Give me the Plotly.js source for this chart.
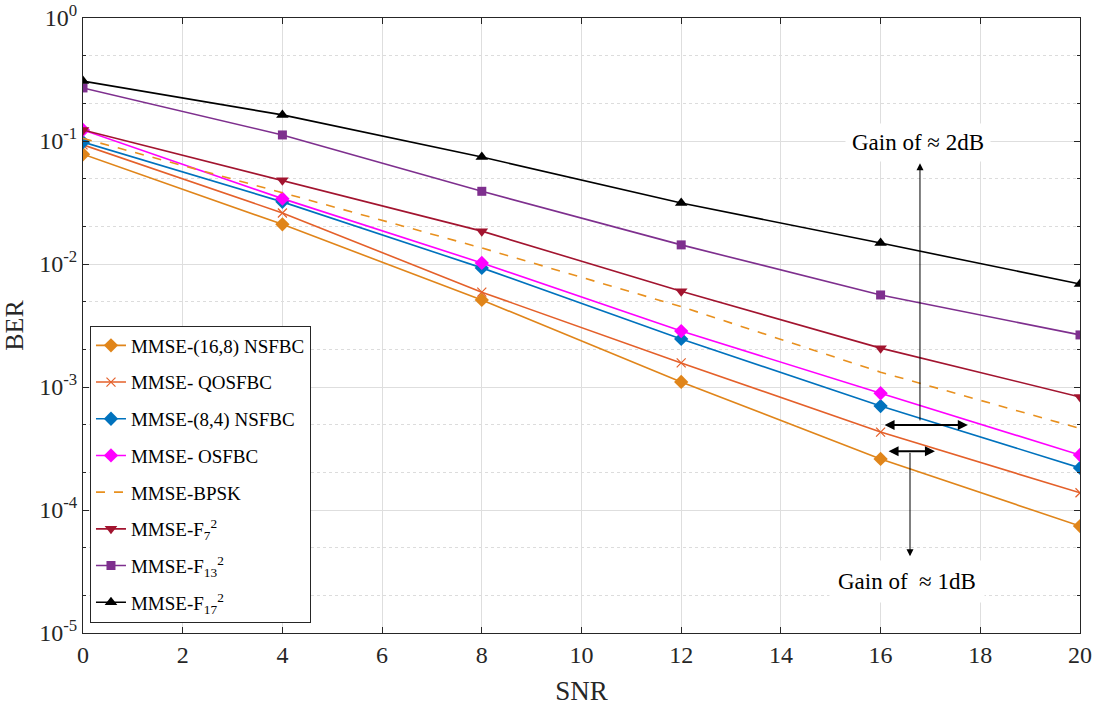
<!DOCTYPE html>
<html>
<head>
<meta charset="utf-8">
<script src="https://cdn.plot.ly/plotly-3.0.1.min.js"></script>
<style>html,body{margin:0;padding:0;background:#fff;}#chart{width:1094px;height:719px;}</style>
</head>
<body>
<div id="chart"></div>
<script>
const snr = [0, 4, 8, 12, 16, 20];
const nsfbc168 = [0.078, 0.021, 0.0051, 0.0011, 0.00026, 0.000074];
const qosfbc   = [0.093, 0.026, 0.0059, 0.00157, 0.00043, 0.000138];
const nsfbc84  = [0.098, 0.032, 0.0093, 0.00246, 0.00070, 0.00022];
const osfbc    = [0.123, 0.034, 0.0102, 0.00285, 0.00089, 0.00028];
const bpsk     = [0.105, 0.038, 0.0135, 0.0045, 0.00132, 0.00046];
const f7       = [0.123, 0.048, 0.0185, 0.0060, 0.00207, 0.00083];
const f13      = [0.270, 0.112, 0.039, 0.0143, 0.0056, 0.00265];
const f17      = [0.307, 0.163, 0.0741, 0.0313, 0.0148, 0.00688];
const names = ['MMSE-(16,8) NSFBC', 'MMSE- QOSFBC', 'MMSE-(8,4) NSFBC', 'MMSE- OSFBC', 'MMSE-BPSK',
               'MMSE-F<sub>7</sub><sup>2</sup>', 'MMSE-F<sub>13</sub><sup>2</sup>', 'MMSE-F<sub>17</sub><sup>2</sup>'];
const xTickVals = [0,2,4,6,8,10,12,14,16,18,20];
const yTickVals = [1, 0.1, 0.01, 0.001, 0.0001, 0.00001];
const yTickText = ['10<sup>0</sup>','10<sup>-1</sup>','10<sup>-2</sup>','10<sup>-3</sup>','10<sup>-4</sup>','10<sup>-5</sup>'];

const series = [nsfbc168, qosfbc, nsfbc84, osfbc, bpsk, f7, f13, f17];
const colors = ['#E0851A', '#E4602A', '#0072BD', '#FF00FF', '#E8901E', '#A2142F', '#7E2F8E', '#000000'];
const symbols = ['diamond', 'x-thin', 'diamond', 'diamond', null, 'triangle-down', 'square', 'triangle-up'];
const msizes = [11, 9, 11, 11, 0, 11, 9, 11];

const traces = series.map((ys, i) => {
  const t = {
    x: snr, y: ys, name: names[i], type: 'scatter', legendgroup: 'g' + i,
    mode: symbols[i] ? 'lines+markers' : 'lines',
    line: {color: colors[i], width: 1.6, dash: i === 4 ? 'dash' : 'solid'}
  };
  if (symbols[i]) {
    t.marker = {symbol: symbols[i], size: msizes[i], color: colors[i],
      line: {color: colors[i], width: symbols[i] === 'x-thin' ? 1.2 : 0}};
  }
  return t;
});

const L = Math.log10;
const serif = 'Liberation Serif, Times New Roman, serif';
const annFont = {family: serif, size: 23, color: '#000'};
const annotations = [
  {x: 16.75, y: L(0.098), xref: 'x', yref: 'y', text: 'Gain of \u2248 2dB', showarrow: false,
   font: annFont, bgcolor: '#fff', borderpad: 6},
  {x: 16.53, y: L(0.000026), xref: 'x', yref: 'y', text: 'Gain of \u00a0\u2248 1dB', showarrow: false,
   font: annFont, bgcolor: '#fff', borderpad: 8},
  {x: 16.79, y: L(0.066), ax: 16.79, ay: L(0.00052), xref: 'x', yref: 'y', axref: 'x', ayref: 'y',
   text: '', showarrow: true, arrowhead: 2, arrowsize: 1.4, arrowwidth: 1, arrowcolor: '#000'},
  {x: 16.59, y: L(0.000042), ax: 16.59, ay: L(0.0003), xref: 'x', yref: 'y', axref: 'x', ayref: 'y',
   text: '', showarrow: true, arrowhead: 2, arrowsize: 1.4, arrowwidth: 1, arrowcolor: '#000'},
  {x: 17.75, y: L(0.00049), ax: 16.05, ay: L(0.00049), xref: 'x', yref: 'y', axref: 'x', ayref: 'y',
   text: '', showarrow: true, arrowside: 'end+start', arrowhead: 2, startarrowhead: 2,
   arrowsize: 1, startarrowsize: 1, arrowwidth: 2, arrowcolor: '#000'},
  {x: 17.09, y: L(0.0003), ax: 16.13, ay: L(0.0003), xref: 'x', yref: 'y', axref: 'x', ayref: 'y',
   text: '', showarrow: true, arrowside: 'end+start', arrowhead: 2, startarrowhead: 2,
   arrowsize: 1, startarrowsize: 1, arrowwidth: 2, arrowcolor: '#000'}
];

const layout = {
  width: 1094, height: 719,
  margin: {l: 83, r: 14, t: 18, b: 86},
  paper_bgcolor: '#fff', plot_bgcolor: '#fff',
  font: {family: serif, color: '#262626'},
  showlegend: true,
  legend: {x: 0.007, y: 0.5, xanchor: 'left', yanchor: 'top', bgcolor: '#fff',
    bordercolor: '#262626', borderwidth: 1, font: {family: serif, size: 19, color: '#000'},
    traceorder: 'grouped', tracegroupgap: 9, itemwidth: 30},
  xaxis: {
    range: [0, 20], tickvals: xTickVals, ticks: 'inside', ticklen: 6, tickcolor: '#262626',
    showline: true, linecolor: '#262626', linewidth: 1, mirror: 'ticks',
    showgrid: true, gridcolor: '#dedede', gridwidth: 1, zeroline: false,
    tickfont: {family: serif, size: 24, color: '#262626'},
    title: {text: 'SNR', font: {family: serif, size: 27, color: '#262626'}, standoff: 14}
  },
  yaxis: {
    type: 'log', range: [-5, 0], tickvals: yTickVals, ticktext: yTickText,
    ticks: 'inside', ticklen: 6, tickcolor: '#262626',
    showline: true, linecolor: '#262626', linewidth: 1, mirror: 'ticks',
    showgrid: true, gridcolor: '#dedede', gridwidth: 1, zeroline: false,
    minor: {ticks: 'inside', ticklen: 3, tickcolor: '#262626', showgrid: true,
      gridcolor: '#dcdcdc', griddash: 'dot', gridwidth: 1},
    tickfont: {family: serif, size: 24, color: '#262626'},
    title: {text: 'BER', font: {family: serif, size: 26, color: '#262626'}, standoff: 8}
  },
  annotations: annotations
};

Plotly.newPlot('chart', traces, layout, {displayModeBar: false, staticPlot: true});
</script>
</body>
</html>
